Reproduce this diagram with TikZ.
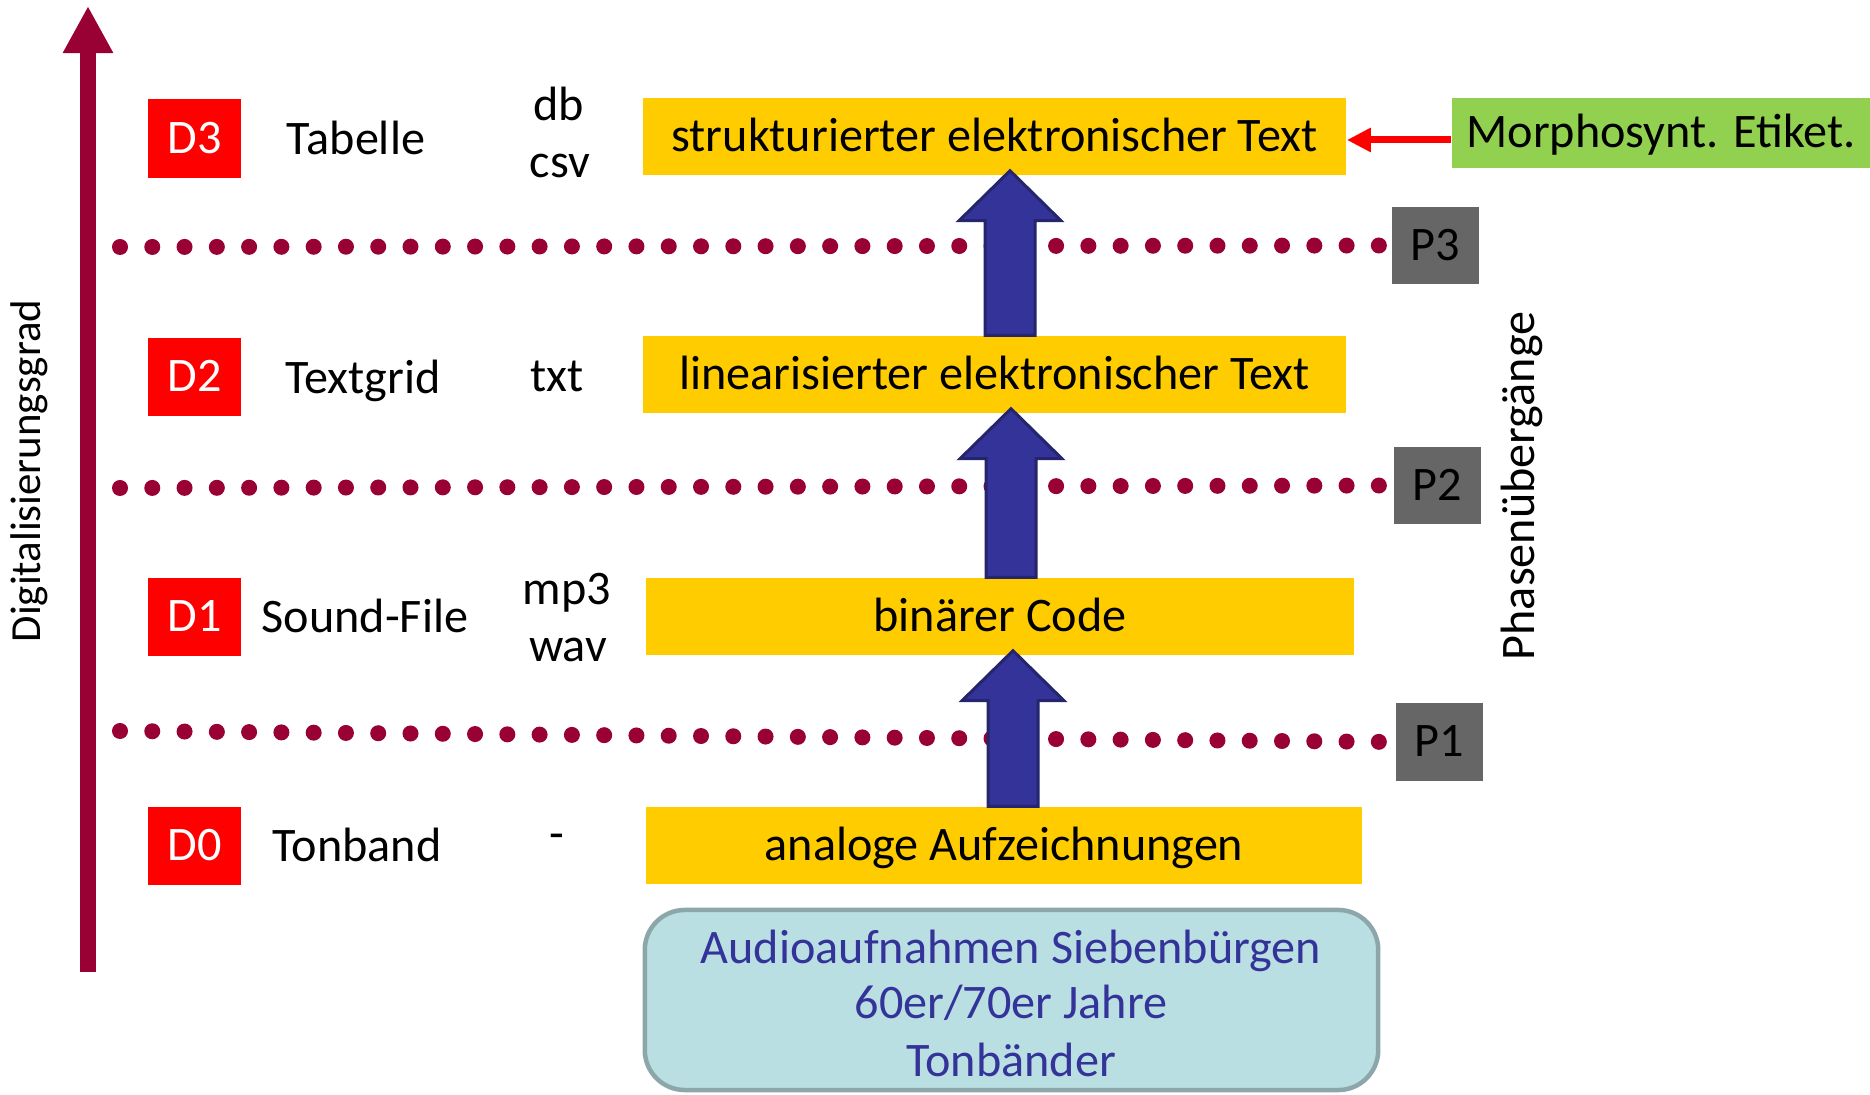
\documentclass[tikz,border=0pt]{standalone}
\usepackage{fontspec}
\setmainfont{Carlito}
\usetikzlibrary{arrows.meta,calc}
\definecolor{maroon}{HTML}{990033}
\definecolor{dred}{HTML}{FF0000}
\definecolor{yell}{HTML}{FFCC00}
\definecolor{mgreen}{HTML}{92D050}
\definecolor{pgray}{HTML}{666666}
\definecolor{bafill}{HTML}{333399}
\definecolor{baline}{HTML}{25256E}
\definecolor{audfill}{HTML}{BADFE2}
\definecolor{audline}{HTML}{8CA7A9}
\definecolor{audtext}{HTML}{333399}
% block arrow: #1 x position (px), #2 lower node, #3 upper node
\newcommand\blockup[3]{%
  \draw[barrow] let \p1=(#2.north), \p2=(#3.south) in
    ({#1*0.01cm-0.25cm},\y1) -- ({#1*0.01cm-0.25cm},{\y2+0.05cm-0.50cm})
    -- ({#1*0.01cm-0.51cm},{\y2+0.05cm-0.50cm}) -- ({#1*0.01cm},{\y2+0.05cm})
    -- ({#1*0.01cm+0.51cm},{\y2+0.05cm-0.50cm}) -- ({#1*0.01cm+0.25cm},{\y2+0.05cm-0.50cm})
    -- ({#1*0.01cm+0.25cm},\y1) -- cycle;}
\begin{document}
\begin{tikzpicture}[x=0.01cm,y=-0.01cm,
  font=\fontsize{13.7}{16.2}\selectfont,
  tx/.style={inner sep=0pt, text height=1.0em, text depth=0.15em},
  dbox/.style={tx, fill=dred, text=white, minimum width=0.93cm, minimum height=0.78cm},
  ybox/.style={tx, fill=yell, minimum height=0.77cm},
  pbox/.style={tx, fill=pgray, minimum width=0.87cm, minimum height=0.77cm},
  dotline/.style={draw=maroon, line width=0.16cm, line cap=round, dash pattern=on 0pt off 0.3226cm},
  barrow/.style={fill=bafill, draw=baline, line width=0.03cm},
  lbl/.style={inner sep=0pt, anchor=base}]
\useasboundingbox (0,0) rectangle (1870,1095);

% axis
\coordinate (axb) at (88,972);
\coordinate (axt) at (88,6);
\draw[maroon, line width=0.155cm, -{Triangle[width=0.47cm,length=0.47cm]}] (axb) -- (axt);
\node[rotate=90, inner sep=0pt, font=\fontsize{12.2}{15}\selectfont] (axlbl) at (29,471) {Digitalisierungsgrad};

% P boxes
\node[pbox] (p3) at (1435.5,245.5) {P3};
\node[pbox] (p2) at (1437.5,485.5) {P2};
\node[pbox] (p1) at (1439.5,742) {P1};
\node[rotate=90, inner sep=0pt] (phase) at (1522,486) {Phasenübergänge};

% dotted phase lines
\coordinate (l3) at (120,247);
\coordinate (l2) at (120,488);
\coordinate (l1) at (120,731);
\draw[dotline] (l3) -- (p3.west);
\draw[dotline] (l2) -- (p2.west);
\draw[dotline] (l1) -- (p1.west);

% D column
\node[dbox] (d3) at (194.5,138.5) {D3};
\node[dbox] (d2) at (194.5,377) {D2};
\node[dbox] (d1) at (194.5,617) {D1};
\node[dbox] (d0) at (194.5,846) {D0};

\node[lbl] (t3) at (356,155) {Tabelle};
\node[lbl] (t2) at (363,394) {Textgrid};
\node[lbl] (t1) at (365,633) {Sound-File};
\node[lbl] (t0) at (357,862) {Tonband};

\node[lbl] (f3a) at (559,121) {db};
\node[lbl] (f3b) at (560,178) {csv};
\node[lbl] (f2) at (557,392) {txt};
\node[lbl] (f1a) at (567,605) {mp3};
\node[lbl] (f1b) at (568,662) {wav};
\node[lbl] (f0) at (557,850) {-};

% yellow boxes
\node[ybox, minimum width=7.03cm] (s3) at (994.5,136.5) {strukturierter elektronischer Text};
\node[ybox, minimum width=7.03cm] (s2) at (994.5,374.5) {linearisierter elektronischer Text};
\node[ybox, minimum width=7.08cm] (s1) at (1000,616.5) {binärer Code};
\node[ybox, minimum width=7.16cm] (s0) at (1004,845.5) {analoge Aufzeichnungen};

% blue arrows
\blockup{1013}{s0}{s1}
\blockup{1011}{s1}{s2}
\blockup{1010}{s2}{s3}

% green box + red arrow
\node[tx, fill=mgreen, minimum width=4.18cm, minimum height=0.70cm] (m) at (1661,133) {Morphosynt. Etiket.};
\draw[dred, line width=0.07cm, -{Triangle[width=0.23cm,length=0.24cm]}]
  ($(m.west)+(0,7)$) -- ($(m.west -| s3.east)+(0,7)$);

% source box
\node[draw=audline, line width=0.045cm, fill=audfill, rounded corners=0.4cm,
      minimum width=7.33cm, minimum height=1.80cm] (src) at (1011.5,1000) {};
\node[lbl, text=audtext] (src1) at (1011,963) {Audioaufnahmen Siebenbürgen};
\node[lbl, text=audtext] (src2) at (1011,1018) {60er/70er Jahre};
\node[lbl, text=audtext] (src3) at (1011,1076) {Tonbänder};
\end{tikzpicture}
\end{document}
